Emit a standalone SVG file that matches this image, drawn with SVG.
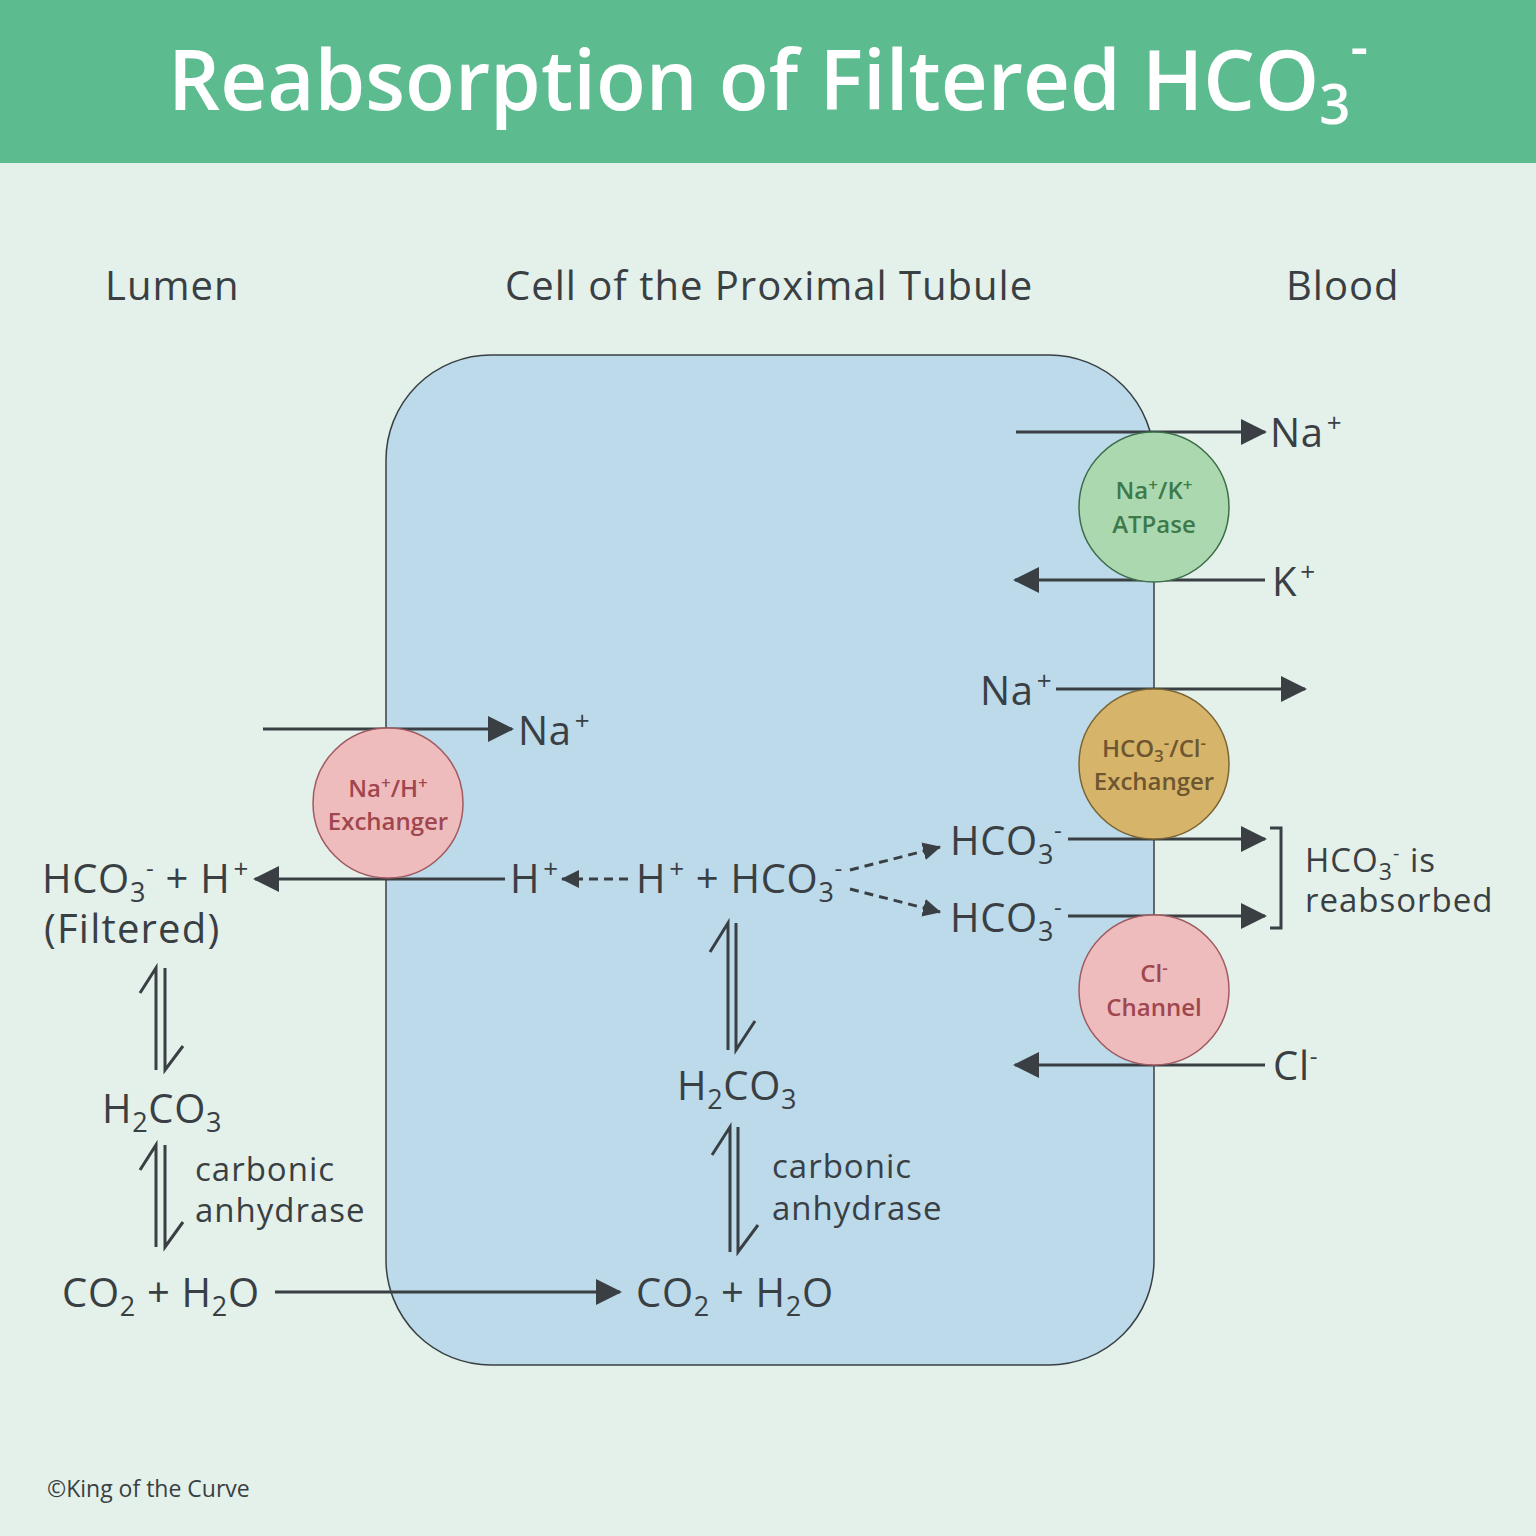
<svg xmlns="http://www.w3.org/2000/svg" width="1536" height="1536" viewBox="0 0 1536 1536">
<defs>
<style>
text{font-family:"Open Sans","Noto Sans","Liberation Sans",sans-serif;fill:#3a3f44}
.t{font-size:40px;letter-spacing:0.7px}
.h{font-size:40px;letter-spacing:1px}
.ca{font-size:33px;letter-spacing:1px}
.ln{stroke:#3a3f44;stroke-width:3;fill:none}
.dash{stroke:#3a3f44;stroke-width:3;fill:none;stroke-dasharray:9 6}
.eq{stroke:#3a3f44;stroke-width:3;fill:none;stroke-linejoin:miter}
.ct{font-size:24px;font-weight:600;text-anchor:middle}
</style>
<marker id="ah" markerUnits="userSpaceOnUse" markerWidth="28" markerHeight="28" refX="24" refY="13" orient="auto">
<path d="M0,0 L26,13 L0,26 z" fill="#3a3f44"/>
</marker>
<marker id="ahs" markerUnits="userSpaceOnUse" markerWidth="22" markerHeight="22" refX="17" refY="9" orient="auto">
<path d="M0,0 L18,9 L0,18 z" fill="#3a3f44"/>
</marker>
</defs>
<rect width="1536" height="1536" fill="#e3f1ea"/>
<rect width="1536" height="163" fill="#5cbb8f"/>
<text x="168" y="110" textLength="1200" lengthAdjust="spacingAndGlyphs" style="font-size:84px;font-weight:600;fill:#ffffff">Reabsorption of Filtered HCO<tspan dy="14" font-size="56">3</tspan><tspan dy="-58" font-size="56">-</tspan></text>

<text class="h" x="105" y="300">Lumen</text>
<text class="h" x="505" y="300">Cell of the Proximal Tubule</text>
<text class="h" x="1286" y="300">Blood</text>

<g id="cell"><rect x="386" y="355" width="768" height="1010" rx="105" ry="105" fill="#bcdaea" stroke="#3a3f44" stroke-width="1.5"/></g>

<g id="connectors">
<line class="ln" x1="1016" y1="432" x2="1265" y2="432" marker-end="url(#ah)"/>
<line class="ln" x1="1265" y1="580" x2="1015" y2="580" marker-end="url(#ah)"/>
<line class="ln" x1="1056" y1="689" x2="1305" y2="689" marker-end="url(#ah)"/>
<line class="ln" x1="1068" y1="839" x2="1265" y2="839" marker-end="url(#ah)"/>
<line class="ln" x1="1068" y1="916" x2="1265" y2="916" marker-end="url(#ah)"/>
<path class="ln" d="M1270,828 H1281 V928 H1270"/>
<line class="ln" x1="1265" y1="1065" x2="1015" y2="1065" marker-end="url(#ah)"/>
<line class="ln" x1="263" y1="729" x2="512" y2="729" marker-end="url(#ah)"/>
<line class="ln" x1="505" y1="879" x2="255" y2="879" marker-end="url(#ah)"/>
<line class="ln" x1="275" y1="1292" x2="620" y2="1292" marker-end="url(#ah)"/>
<line class="dash" x1="628" y1="879" x2="562" y2="879" marker-end="url(#ahs)"/>
<line class="dash" x1="850" y1="870" x2="940" y2="847" marker-end="url(#ahs)"/>
<line class="dash" x1="850" y1="889" x2="940" y2="912" marker-end="url(#ahs)"/>
<path class="eq" d="M156,1070 V968 L140,993 M165,968 V1070 L183,1046"/>
<path class="eq" d="M156,1247 V1145 L140,1170 M165,1145 V1247 L183,1222"/>
<path class="eq" d="M728,1050 V923 L710,952 M736,923 V1050 L755,1021"/>
<path class="eq" d="M730,1252 V1127 L712,1155 M738,1127 V1252 L758,1225"/>
</g>

<g id="nak">
<circle cx="1154" cy="507" r="75" fill="#acd8b0" stroke="#3d6e4a" stroke-width="1.5"/>
<text class="ct" x="1154" y="499" style="fill:#3d7a4a">Na<tspan dy="-8" font-size="17">+</tspan><tspan dy="8">/K</tspan><tspan dy="-8" font-size="17">+</tspan></text>
<text class="ct" x="1154" y="533" style="fill:#3d7a4a">ATPase</text>
</g>
<g id="hco3cl">
<circle cx="1154" cy="764" r="75" fill="#d6b56a" stroke="#7a6535" stroke-width="1.5"/>
<text class="ct" x="1154" y="757" style="fill:#6e5630">HCO<tspan dy="5" font-size="17">3</tspan><tspan dy="-13" font-size="17">-</tspan><tspan dy="8">/Cl</tspan><tspan dy="-8" font-size="17">-</tspan></text>
<text class="ct" x="1154" y="790" style="fill:#6e5630">Exchanger</text>
</g>
<g id="clch">
<circle cx="1154" cy="990" r="75" fill="#eebcbd" stroke="#a05a60" stroke-width="1.5"/>
<text class="ct" x="1154" y="982" style="fill:#a0464e">Cl<tspan dy="-8" font-size="17">-</tspan></text>
<text class="ct" x="1154" y="1016" style="fill:#a0464e">Channel</text>
</g>
<g id="nah">
<circle cx="388" cy="803" r="75" fill="#eebcbd" stroke="#a05a60" stroke-width="1.5"/>
<text class="ct" x="388" y="797" style="fill:#a0464e">Na<tspan dy="-8" font-size="17">+</tspan><tspan dy="8">/H</tspan><tspan dy="-8" font-size="17">+</tspan></text>
<text class="ct" x="388" y="830" style="fill:#a0464e">Exchanger</text>
</g>

<g id="labels">
<text class="t" x="1270" y="447">Na<tspan dx="3" dy="-15" font-size="26">+</tspan></text>
<text class="t" x="1272" y="596">K<tspan dx="3" dy="-15" font-size="26">+</tspan></text>
<text class="t" x="980" y="705">Na<tspan dx="3" dy="-15" font-size="26">+</tspan></text>
<text class="t" x="950" y="855">HCO<tspan dy="9" font-size="27">3</tspan><tspan dy="-25" font-size="24">-</tspan></text>
<text class="t" x="950" y="932">HCO<tspan dy="9" font-size="27">3</tspan><tspan dy="-25" font-size="24">-</tspan></text>
<text x="1305" y="872" style="font-size:33px;letter-spacing:1px">HCO<tspan dy="8" font-size="23">3</tspan><tspan dy="-20" font-size="20">-</tspan><tspan dy="12"> is</tspan></text>
<text x="1305" y="912" style="font-size:33px;letter-spacing:1px">reabsorbed</text>
<text class="t" x="1273" y="1080">Cl<tspan dy="-15" font-size="24">-</tspan></text>
<text class="t" x="518" y="745">Na<tspan dx="3" dy="-15" font-size="26">+</tspan></text>
<text class="t" x="42" y="893">HCO<tspan dy="9" font-size="27">3</tspan><tspan dy="-25" font-size="24">-</tspan><tspan dy="16"> + H</tspan><tspan dx="3" dy="-15" font-size="26">+</tspan></text>
<text class="t" x="44" y="943" style="letter-spacing:1.2px">(Filtered)</text>
<text class="t" x="510" y="893">H<tspan dx="3" dy="-15" font-size="26">+</tspan></text>
<text class="t" x="636" y="893">H<tspan dx="3" dy="-15" font-size="26">+</tspan><tspan dy="15"> + HCO</tspan><tspan dy="9" font-size="27">3</tspan><tspan dy="-25" font-size="24">-</tspan></text>
<text class="t" x="102" y="1123">H<tspan dy="9" font-size="27">2</tspan><tspan dy="-9">CO</tspan><tspan dy="9" font-size="27">3</tspan></text>
<text class="ca" x="195" y="1181">carbonic</text>
<text class="ca" x="195" y="1222">anhydrase</text>
<text class="t" x="62" y="1307">CO<tspan dy="9" font-size="27">2</tspan><tspan dy="-9"> + H</tspan><tspan dy="9" font-size="27">2</tspan><tspan dy="-9">O</tspan></text>
<text class="t" x="677" y="1100">H<tspan dy="9" font-size="27">2</tspan><tspan dy="-9">CO</tspan><tspan dy="9" font-size="27">3</tspan></text>
<text class="ca" x="772" y="1178">carbonic</text>
<text class="ca" x="772" y="1220">anhydrase</text>
<text class="t" x="636" y="1307">CO<tspan dy="9" font-size="27">2</tspan><tspan dy="-9"> + H</tspan><tspan dy="9" font-size="27">2</tspan><tspan dy="-9">O</tspan></text>
<text x="47" y="1497" style="font-size:23px">©King of the Curve</text>
</g>
</svg>
